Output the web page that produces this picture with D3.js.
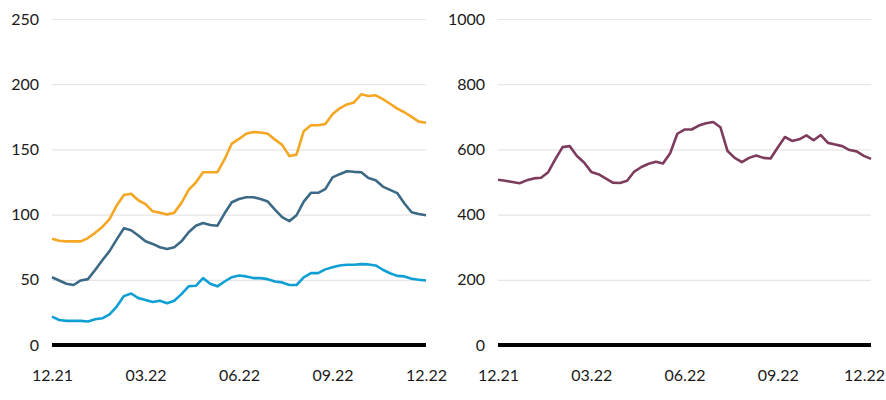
<!DOCTYPE html>
<html>
<head>
<meta charset="utf-8">
<script src="https://d3js.org/d3.v7.min.js"></script>
<style>
  body { margin: 0; background: #fff; }
  text { font-family: Lato, "Noto Sans", sans-serif; font-size: 16px; fill: #1a1a1a; }
</style>
</head>
<body>
<svg id="chart" width="886" height="400"></svg>
<script>
// weekly observations, 03.12.2021 - 02.12.2022
var dates = [
  "2021-12-03","2021-12-10","2021-12-17","2021-12-24","2021-12-31",
  "2022-01-07","2022-01-14","2022-01-21","2022-01-28","2022-02-04",
  "2022-02-11","2022-02-18","2022-02-25","2022-03-04","2022-03-11",
  "2022-03-18","2022-03-25","2022-04-01","2022-04-08","2022-04-15",
  "2022-04-22","2022-04-29","2022-05-06","2022-05-13","2022-05-20",
  "2022-05-27","2022-06-03","2022-06-10","2022-06-17","2022-06-24",
  "2022-07-01","2022-07-08","2022-07-15","2022-07-22","2022-07-29",
  "2022-08-05","2022-08-12","2022-08-19","2022-08-26","2022-09-02",
  "2022-09-09","2022-09-16","2022-09-23","2022-09-30","2022-10-07",
  "2022-10-14","2022-10-21","2022-10-28","2022-11-04","2022-11-11",
  "2022-11-18","2022-11-25","2022-12-02"];

var xTickDates = ["2021-12-03","2022-03-04","2022-06-03","2022-09-02","2022-12-02"];

// left panel
var orange = [81.5,80,79.5,79.5,79.5,82,86,90.5,96.5,107,
  115,116,111,108,102.5,101.5,100,101.5,109,119,
  124.6,132.5,132.5,132.5,142.5,154.5,158,162,163.3,163,
  162,157.5,153.5,145,146,164,168.5,168.5,169.5,177,
  181.5,184.5,186,192.3,191,191.5,188.5,185,181.3,178.5,
  175,171.3,170.5];
var darkBlue = [52,49.5,47,46,49.5,50.5,57.5,65,72,81,
  89.5,88,84,79.5,77.5,75,73.6,75,79.5,86.5,
  91.5,93.6,92,91.5,101,109.5,112,113.3,113.3,112,
  110,103.8,98,95,99.5,110,116.7,116.7,119.5,128.5,
  131,133.3,132.8,132.5,128,126.4,121.5,119,116.5,108.5,
  101.8,100.5,99.5];
var lightBlue = [21.8,19.2,18.5,18.5,18.5,18,19.8,20.5,23.5,29.5,
  37.5,39.5,36,34.5,33,34,32,34,39,45,
  45.4,51.3,47,45,48.7,52,53.3,52.6,51.3,51.3,
  50.5,48.7,48,46,46,51.8,55.1,55.1,58,59.7,
  61,61.5,61.5,62,61.8,61,57.7,55,53,52.6,
  50.8,50,49.5];
var leftTicks = [0,50,100,150,200,250];

// right panel
var purple = [507,504,500,496,505,511,513,530,570,607,
  610,580,560,531,524,511,498,497,504,532,
  546,556,562,557,588,648,661,661,673,680,
  684,668,595,574,561,574,581,574,572,606,
  638,626,631,643,628,644,620,615,610,598,
  594,580,571];
var rightTicks = [0,200,400,600,800,1000];

var parse = d3.timeParse("%Y-%m-%d");
var fmt = d3.timeFormat("%m.%y");
var days = dates.map(parse);
var tickDays = xTickDates.map(parse);

var svg = d3.select("#chart");
var yTop = 19, yBottom = 345;

function panel(x0, x1, yMax, yTicks, series) {
  var x = d3.scaleTime().domain(d3.extent(days)).range([x0, x1]);
  var y = d3.scaleLinear().domain([0, yMax]).range([yBottom, yTop]);
  var g = svg.append("g");

  // gridlines + y labels
  var ya = g.append("g").attr("transform", "translate(" + x0 + ",0)")
    .call(d3.axisLeft(y).tickValues(yTicks).tickFormat(d3.format("d"))
      .tickSize(-(x1 - x0)).tickPadding(13));
  ya.select(".domain").remove();
  ya.selectAll(".tick line").attr("stroke", "#e6e6e6").attr("stroke-width", 1.2);
  ya.selectAll(".tick text").attr("font-size", null).attr("font-family", null);

  // x labels
  var xa = g.append("g").attr("transform", "translate(0," + (yBottom + 21) + ")")
    .call(d3.axisBottom(x).tickValues(tickDays).tickFormat(fmt).tickSize(0).tickPadding(4));
  xa.select(".domain").remove();
  xa.selectAll(".tick text").attr("font-size", null).attr("font-family", null);
  xa.selectAll(".tick text").each(function () {
    var b = this.getBBox();
    var tx = this.parentNode.transform.baseVal.consolidate().matrix.e;
    var over = tx + b.x + b.width - 885;
    if (over > 0) d3.select(this).attr("dx", -over);
  });

  var line = d3.line().x(function (d, i) { return x(days[i]); }).y(function (d) { return y(d); });
  series.forEach(function (s) {
    g.append("path").datum(s.values)
      .attr("d", line)
      .attr("fill", "none")
      .attr("stroke", s.color)
      .attr("stroke-width", 2.6)
      .attr("stroke-linejoin", "round");
  });

  // zero line
  g.append("line")
    .attr("x1", x0).attr("x2", x1)
    .attr("y1", y(0)).attr("y2", y(0))
    .attr("stroke", "#000").attr("stroke-width", 4);
}

panel(52, 426, 250, leftTicks, [
  { values: orange, color: "#f5a623" },
  { values: darkBlue, color: "#3c6a86" },
  { values: lightBlue, color: "#109fd5" }
]);
panel(498, 871, 1000, rightTicks, [
  { values: purple, color: "#7d3b5e" }
]);
</script>
</body>
</html>
